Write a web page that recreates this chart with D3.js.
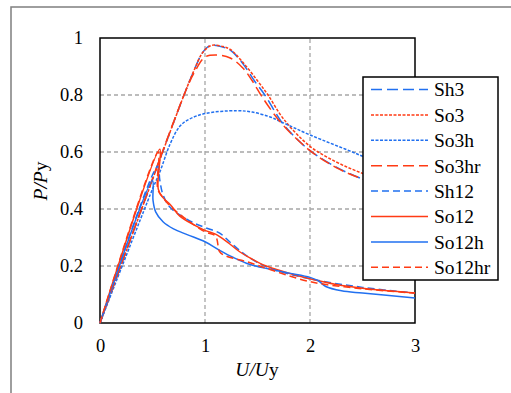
<!DOCTYPE html>
<meta charset="utf-8">
<title>P/Py vs U/Uy</title>
<body style="margin:0;background:#fff">
<style>
svg, svg text { font-family: "Liberation Serif", "Times New Roman", Times, "DejaVu Serif", serif; }
.tick text { font-size: 18.5px; }
</style>
<script src="https://d3js.org/d3.v7.min.js"></script>
<script>
// series names and values: [U/Uy, P/Py]
var names = ["Sh3", "So3", "So3h", "So3hr", "Sh12", "So12", "So12h", "So12hr"];

var sh3 = [[0,0],[0.8,0.8],[0.9,0.89],[0.97,0.945],[1.03,0.97],[1.08,0.975],[1.17,0.968],[1.25,0.955],
  [1.36,0.91],[1.47,0.85],[1.57,0.8],[1.73,0.705],[1.85,0.655],[2,0.605],[2.25,0.547],[2.5,0.505],[3,0.44]];
var so3 = [[0,0],[0.8,0.8],[0.9,0.89],[0.97,0.945],[1.03,0.968],[1.075,0.975],[1.17,0.97],[1.24,0.96],
  [1.36,0.915],[1.5,0.85],[1.6,0.8],[1.75,0.715],[2,0.62],[2.25,0.565],[2.5,0.525],[3,0.46]];
var so3h = [[0,0],[0.5,0.47],[0.57,0.53],[0.67,0.63],[0.76,0.69],[0.85,0.715],[1,0.735],[1.3,0.745],
  [1.45,0.74],[1.62,0.723],[1.73,0.705],[2,0.66],[2.5,0.585],[3,0.5]];
var so3hr = [[0,0],[0.8,0.8],[0.9,0.88],[1,0.933],[1.11,0.94],[1.24,0.93],[1.36,0.895],[1.45,0.85],
  [1.55,0.79],[1.73,0.7],[2,0.605],[2.25,0.545],[2.5,0.505],[3,0.44]];
var sh12 = [[0,0],[0.55,0.55],[0.57,0.5],[0.6,0.45],[0.67,0.405],[0.8,0.37],[0.9,0.35],[1,0.335],
  [1.14,0.315],[1.25,0.28],[1.4,0.235],[1.6,0.195],[2,0.155],[2.5,0.125],[3,0.105]];
var so12 = [[0,0],[0.57,0.61],[0.555,0.47],[0.6,0.44],[0.67,0.415],[0.76,0.375],[0.89,0.345],[1,0.325],
  [1.1,0.312],[1.21,0.285],[1.33,0.25],[1.43,0.228],[1.55,0.205],[1.75,0.18],[2,0.155],[2.25,0.135],
  [2.5,0.122],[3,0.105]];
var so12h = [[0,0],[0.5,0.5],[0.505,0.43],[0.53,0.39],[0.6,0.355],[0.7,0.33],[0.83,0.31],[1,0.285],
  [1.14,0.255],[1.27,0.23],[1.43,0.205],[1.6,0.19],[1.8,0.175],[2,0.16],[2.08,0.148],[2.15,0.128],
  [2.3,0.113],[2.5,0.105],[3,0.088]];
var so12hr = [[0,0],[0.555,0.6],[0.55,0.47],[0.6,0.44],[0.67,0.41],[0.8,0.37],[1,0.32],[1.1,0.305],
  [1.14,0.25],[1.2,0.235],[1.4,0.215],[1.6,0.19],[2,0.145],[2.5,0.12],[3,0.105]];

var xTicks = [0, 1, 2, 3];
var yTicks = [0, 0.2, 0.4, 0.6, 0.8, 1];

var blue = "#2170f0", red = "#ff3b14";
var styles = {
  Sh3:    {c: blue, d: "11,5"},
  So3:    {c: red,  d: "3,1.5"},
  So3h:   {c: blue, d: "3,1.5"},
  So3hr:  {c: red,  d: "11,5"},
  Sh12:   {c: blue, d: "7,4"},
  So12:   {c: red,  d: null},
  So12h:  {c: blue, d: null},
  So12hr: {c: red,  d: "7,4"}
};
var seriesData = {Sh3: sh3, So3: so3, So3h: so3h, So3hr: so3hr, Sh12: sh12, So12: so12, So12h: so12h, So12hr: so12hr};

var W = 511, H = 393;
var serif = "'Liberation Serif', 'Times New Roman', Times, 'DejaVu Serif', serif";
var svg = d3.select("body").append("svg").attr("width", W).attr("height", H)
  .attr("font-family", serif);

// outer frame
svg.append("rect").attr("x", 11).attr("y", 7).attr("width", 540).attr("height", 420)
  .attr("fill", "none").attr("stroke", "#7f7f7f").attr("stroke-width", 1.5);

var x = d3.scaleLinear().domain([0, 3]).range([100, 415]);
var y = d3.scaleLinear().domain([0, 1]).range([323, 38]);

// grid
svg.append("g").selectAll("line").data([1, 2]).enter().append("line")
  .attr("x1", d => x(d)).attr("x2", d => x(d)).attr("y1", y(0)).attr("y2", y(1))
  .attr("stroke", "#a6a6a6").attr("stroke-width", 1.3).attr("stroke-dasharray", "4,3");
svg.append("g").selectAll("line").data([0.2, 0.4, 0.6, 0.8]).enter().append("line")
  .attr("y1", d => y(d)).attr("y2", d => y(d)).attr("x1", x(0)).attr("x2", x(3))
  .attr("stroke", "#a6a6a6").attr("stroke-width", 1.3).attr("stroke-dasharray", "4,3");

// plot border
svg.append("rect").attr("x", x(0)).attr("y", y(1)).attr("width", x(3) - x(0)).attr("height", y(0) - y(1))
  .attr("fill", "none").attr("stroke", "#000").attr("stroke-width", 1.5);

// axes (labels only)
svg.append("g").attr("transform", "translate(0," + y(0) + ")")
  .call(d3.axisBottom(x).tickValues(xTicks).tickFormat(d3.format("d")).tickSize(0).tickPadding(16));
svg.append("g").attr("transform", "translate(" + x(0) + ",0)")
  .call(d3.axisLeft(y).tickValues(yTicks).tickFormat(d => d === 0 || d === 1 ? d3.format("d")(d) : d3.format(".1f")(d))
  .tickSize(0).tickPadding(17));
svg.selectAll(".domain").remove();
svg.selectAll("g").attr("font-family", serif);
svg.selectAll(".tick text").attr("fill", "#000").attr("font-size", 18.5);

// curves
var line = d3.line().x(d => x(d[0])).y(d => y(d[1])).curve(d3.curveCatmullRom.alpha(0.5));
names.forEach(function(n) {
  svg.append("path").datum(seriesData[n]).attr("d", line)
    .attr("fill", "none").attr("stroke", styles[n].c).attr("stroke-width", 1.5)
    .attr("stroke-dasharray", styles[n].d);
});

// axis titles
svg.append("text").attr("x", 257).attr("y", 376).attr("text-anchor", "middle")
  .attr("font-size", 19.5)
  .html('<tspan font-style="italic">U/U</tspan>y');
svg.append("text").attr("transform", "translate(47,181) rotate(-90)").attr("text-anchor", "middle")
  .attr("font-size", 19.5)
  .html('<tspan font-style="italic">P/P</tspan>y');

// legend
var lg = svg.append("g");
lg.append("rect").attr("x", 363).attr("y", 77).attr("width", 135).attr("height", 203)
  .attr("fill", "#fff").attr("stroke", "#000").attr("stroke-width", 1.5);
var ent = lg.selectAll("g.ent").data(names).enter().append("g").attr("class", "ent")
  .attr("transform", (d, i) => "translate(0," + (89.5 + i * 25.4) + ")");
ent.append("line").attr("x1", 371).attr("x2", 428).attr("y1", 0).attr("y2", 0)
  .attr("stroke", d => styles[d].c).attr("stroke-width", 1.5)
  .attr("stroke-dasharray", d => styles[d].d);
ent.append("text").attr("x", 434).attr("dy", "0.35em").attr("font-size", 19.5).text(d => d);
</script>
</body>
